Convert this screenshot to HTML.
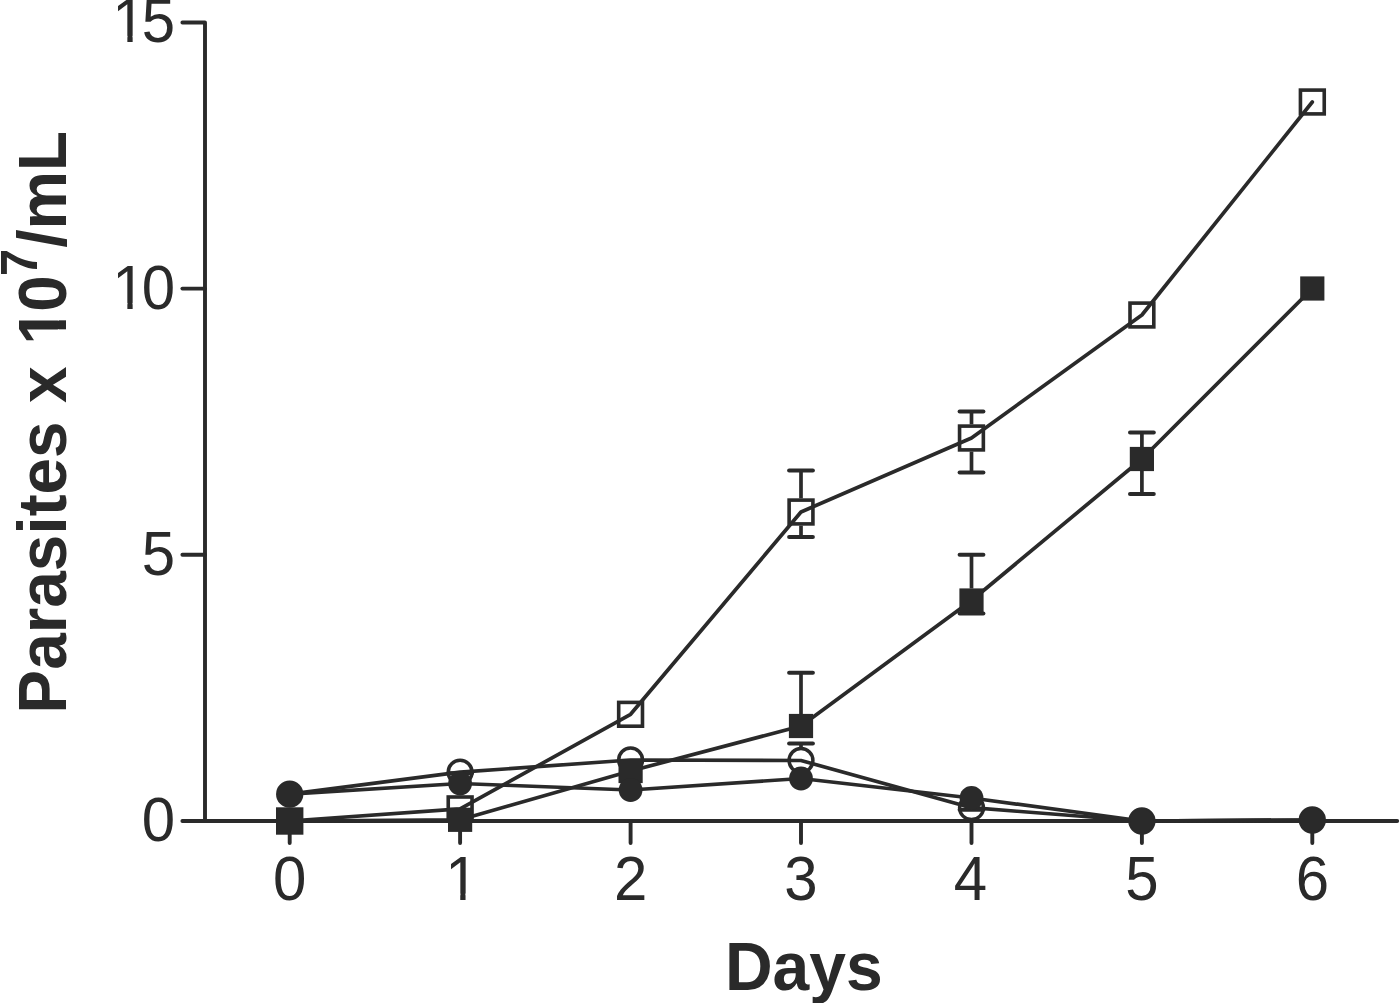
<!DOCTYPE html>
<html><head><meta charset="utf-8"><style>
html,body{margin:0;padding:0;background:#fff;width:1400px;height:1003px;overflow:hidden}
svg{display:block;filter:blur(0.4px)}
text{font-family:"Liberation Sans",sans-serif;fill:#2a2a2a;-webkit-font-smoothing:antialiased}
</style></head><body>
<svg width="1400" height="1003" viewBox="0 0 1400 1003">
<rect width="1400" height="1003" fill="#fff"/>
<path d="M182.4,22.5 H205 V821" fill="none" stroke="#2a2a2a" stroke-width="3.9" stroke-linecap="round" stroke-linejoin="round"/>
<path d="M182.4,821 H1397.2" fill="none" stroke="#2a2a2a" stroke-width="3.9" stroke-linecap="round"/>
<path d="M182.4,288.6 H205" fill="none" stroke="#2a2a2a" stroke-width="3.9" stroke-linecap="round"/>
<path d="M182.4,554.75 H205" fill="none" stroke="#2a2a2a" stroke-width="3.9" stroke-linecap="round"/>
<path d="M289.7,821 V843" fill="none" stroke="#2a2a2a" stroke-width="3.9" stroke-linecap="round"/>
<path d="M460.1,821 V843" fill="none" stroke="#2a2a2a" stroke-width="3.9" stroke-linecap="round"/>
<path d="M630.6,821 V843" fill="none" stroke="#2a2a2a" stroke-width="3.9" stroke-linecap="round"/>
<path d="M801.0,821 V843" fill="none" stroke="#2a2a2a" stroke-width="3.9" stroke-linecap="round"/>
<path d="M971.5,821 V843" fill="none" stroke="#2a2a2a" stroke-width="3.9" stroke-linecap="round"/>
<path d="M1141.9,821 V843" fill="none" stroke="#2a2a2a" stroke-width="3.9" stroke-linecap="round"/>
<path d="M1312.3,821 V843" fill="none" stroke="#2a2a2a" stroke-width="3.9" stroke-linecap="round"/>
<path d="M289.7,821.0 L460.1,808.9 L630.6,714.3 L801.0,512.0 L971.5,438.0 L1141.9,315.0 L1312.3,102.0" fill="none" stroke="#2a2a2a" stroke-width="3.7" stroke-linejoin="round" stroke-linecap="round"/>
<path d="M289.7,821.0 L460.1,819.8 L630.6,771.0 L801.0,726.0 L971.5,600.5 L1141.9,459.0 L1312.3,288.5" fill="none" stroke="#2a2a2a" stroke-width="3.7" stroke-linejoin="round" stroke-linecap="round"/>
<path d="M289.7,794.2 L460.1,772.2 L630.6,760.0 L801.0,760.5 L971.5,807.7 L1141.9,821.0 L1312.3,820.0" fill="none" stroke="#2a2a2a" stroke-width="3.7" stroke-linejoin="round" stroke-linecap="round"/>
<path d="M289.7,794.2 L460.1,783.5 L630.6,790.0 L801.0,778.5 L971.5,798.0 L1141.9,821.0 L1312.3,820.0" fill="none" stroke="#2a2a2a" stroke-width="3.7" stroke-linejoin="round" stroke-linecap="round"/>
<path d="M801.0,498.4 V470.4" stroke="#2a2a2a" stroke-width="3.7" fill="none"/>
<path d="M789.1,470.4 H812.9" stroke="#2a2a2a" stroke-width="4.0" stroke-linecap="round" fill="none"/>
<path d="M801.0,525.6 V536.9" stroke="#2a2a2a" stroke-width="3.7" fill="none"/>
<path d="M789.1,536.9 H812.9" stroke="#2a2a2a" stroke-width="4.0" stroke-linecap="round" fill="none"/>
<path d="M971.5,424.4 V411.4" stroke="#2a2a2a" stroke-width="3.7" fill="none"/>
<path d="M959.6,411.4 H983.4" stroke="#2a2a2a" stroke-width="4.0" stroke-linecap="round" fill="none"/>
<path d="M971.5,451.6 V472.4" stroke="#2a2a2a" stroke-width="3.7" fill="none"/>
<path d="M959.6,472.4 H983.4" stroke="#2a2a2a" stroke-width="4.0" stroke-linecap="round" fill="none"/>
<path d="M801.0,714.0 V672.7" stroke="#2a2a2a" stroke-width="3.7" fill="none"/>
<path d="M789.1,672.7 H812.9" stroke="#2a2a2a" stroke-width="4.0" stroke-linecap="round" fill="none"/>
<path d="M801.0,747.2 V743.6" stroke="#2a2a2a" stroke-width="3.7" fill="none"/>
<path d="M789.1,743.6 H812.9" stroke="#2a2a2a" stroke-width="4.0" stroke-linecap="round" fill="none"/>
<path d="M971.5,588.5 V554.8" stroke="#2a2a2a" stroke-width="3.7" fill="none"/>
<path d="M959.6,554.8 H983.4" stroke="#2a2a2a" stroke-width="4.0" stroke-linecap="round" fill="none"/>
<path d="M971.5,612.5 V613.6" stroke="#2a2a2a" stroke-width="3.7" fill="none"/>
<path d="M959.6,613.6 H983.4" stroke="#2a2a2a" stroke-width="4.0" stroke-linecap="round" fill="none"/>
<path d="M460.1,771.6 V773.3" stroke="#2a2a2a" stroke-width="3.7" fill="none"/>
<path d="M448.2,773.3 H472.0" stroke="#2a2a2a" stroke-width="4.0" stroke-linecap="round" fill="none"/>
<path d="M971.5,809.9 V809.8" stroke="#2a2a2a" stroke-width="3.7" fill="none"/>
<path d="M959.6,809.8 H983.4" stroke="#2a2a2a" stroke-width="4.0" stroke-linecap="round" fill="none"/>
<path d="M1141.9,447.0 V432.4" stroke="#2a2a2a" stroke-width="3.7" fill="none"/>
<path d="M1130.0,432.4 H1153.8" stroke="#2a2a2a" stroke-width="4.0" stroke-linecap="round" fill="none"/>
<path d="M1141.9,471.0 V494.0" stroke="#2a2a2a" stroke-width="3.7" fill="none"/>
<path d="M1130.0,494.0 H1153.8" stroke="#2a2a2a" stroke-width="4.0" stroke-linecap="round" fill="none"/>
<rect x="277.80" y="809.10" width="23.8" height="23.8" fill="none" stroke="#2a2a2a" stroke-width="3.6"/>
<rect x="448.24" y="797.00" width="23.8" height="23.8" fill="none" stroke="#2a2a2a" stroke-width="3.6"/>
<rect x="618.68" y="702.40" width="23.8" height="23.8" fill="none" stroke="#2a2a2a" stroke-width="3.6"/>
<rect x="789.12" y="500.10" width="23.8" height="23.8" fill="none" stroke="#2a2a2a" stroke-width="3.6"/>
<rect x="959.56" y="426.10" width="23.8" height="23.8" fill="none" stroke="#2a2a2a" stroke-width="3.6"/>
<rect x="1130.00" y="303.10" width="23.8" height="23.8" fill="none" stroke="#2a2a2a" stroke-width="3.6"/>
<rect x="1300.44" y="90.10" width="23.8" height="23.8" fill="none" stroke="#2a2a2a" stroke-width="3.6"/>
<circle cx="289.7" cy="794.2" r="11.9" fill="none" stroke="#2a2a2a" stroke-width="3.5"/>
<circle cx="460.1" cy="772.2" r="11.9" fill="none" stroke="#2a2a2a" stroke-width="3.5"/>
<circle cx="630.6" cy="760.0" r="11.9" fill="none" stroke="#2a2a2a" stroke-width="3.5"/>
<circle cx="801.0" cy="760.5" r="11.9" fill="none" stroke="#2a2a2a" stroke-width="3.5"/>
<circle cx="971.5" cy="807.7" r="11.9" fill="none" stroke="#2a2a2a" stroke-width="3.5"/>
<circle cx="1141.9" cy="821.0" r="11.9" fill="none" stroke="#2a2a2a" stroke-width="3.5"/>
<circle cx="1312.3" cy="820.0" r="11.9" fill="none" stroke="#2a2a2a" stroke-width="3.5"/>
<rect x="277.6" y="808.9" width="24.2" height="24.2" fill="#2a2a2a"/>
<rect x="448.0" y="807.7" width="24.2" height="24.2" fill="#2a2a2a"/>
<rect x="618.5" y="758.9" width="24.2" height="24.2" fill="#2a2a2a"/>
<rect x="788.9" y="713.9" width="24.2" height="24.2" fill="#2a2a2a"/>
<rect x="959.4" y="588.4" width="24.2" height="24.2" fill="#2a2a2a"/>
<rect x="1129.8" y="446.9" width="24.2" height="24.2" fill="#2a2a2a"/>
<rect x="1300.2" y="276.4" width="24.2" height="24.2" fill="#2a2a2a"/>
<circle cx="289.7" cy="794.2" r="11.9" fill="#2a2a2a"/>
<circle cx="460.1" cy="783.5" r="11.9" fill="#2a2a2a"/>
<circle cx="630.6" cy="790.0" r="11.9" fill="#2a2a2a"/>
<circle cx="801.0" cy="778.5" r="11.9" fill="#2a2a2a"/>
<circle cx="971.5" cy="798.0" r="11.9" fill="#2a2a2a"/>
<circle cx="1141.9" cy="821.0" r="11.9" fill="#2a2a2a"/>
<circle cx="1312.3" cy="820.0" r="11.9" fill="#2a2a2a"/>
<text transform="translate(175.2,841.30) scale(1,1.035)" text-anchor="end" font-size="60">0</text>
<text transform="translate(175.2,575.05) scale(1,1.035)" text-anchor="end" font-size="60">5</text>
<g transform="translate(0,308.90) scale(1,1.035)"><text x="112.3 141.7" y="0" font-size="60">10</text><rect x="115.86" y="-5.76" width="11.50" height="7.26" fill="#fff"/><rect x="132.64" y="-5.76" width="11.02" height="7.26" fill="#fff"/></g>
<g transform="translate(0,41.80) scale(1,1.035)"><text x="112.3 141.7" y="0" font-size="60">15</text><rect x="115.86" y="-5.76" width="11.50" height="7.26" fill="#fff"/><rect x="132.64" y="-5.76" width="11.02" height="7.26" fill="#fff"/></g>
<text transform="translate(289.7,899.5) scale(1,1.035)" text-anchor="middle" font-size="60">0</text>
<g transform="translate(0,899.5) scale(1,1.035)"><text x="445.2" y="0" font-size="60">1</text><rect x="448.76" y="-5.76" width="11.50" height="7.26" fill="#fff"/><rect x="465.54" y="-5.76" width="11.02" height="7.26" fill="#fff"/></g>
<text transform="translate(630.6,899.5) scale(1,1.035)" text-anchor="middle" font-size="60">2</text>
<text transform="translate(801.0,899.5) scale(1,1.035)" text-anchor="middle" font-size="60">3</text>
<text transform="translate(970.5,899.5) scale(1,1.035)" text-anchor="middle" font-size="60">4</text>
<text transform="translate(1141.9,899.5) scale(1,1.035)" text-anchor="middle" font-size="60">5</text>
<text transform="translate(1312.3,899.5) scale(1,1.035)" text-anchor="middle" font-size="60">6</text>
<text transform="translate(724.9,990.3) scale(1,1.04)" font-size="66" font-weight="bold">Days</text>
<g transform="translate(66.2,713.7) rotate(-90) scale(1,1.04)"><text font-size="65.75" font-weight="bold">Parasites x <tspan dx="3.6">1</tspan><tspan dx="-3.6">0</tspan><tspan font-size="49" dy="-28.5" dx="-1">7</tspan><tspan dy="28.5" dx="1">/mL</tspan></text><rect x="372.19" y="-8.01" width="12.18" height="9.51" fill="#fff"/><rect x="393.38" y="-8.01" width="10.82" height="9.51" fill="#fff"/></g>
</svg>
</body></html>
